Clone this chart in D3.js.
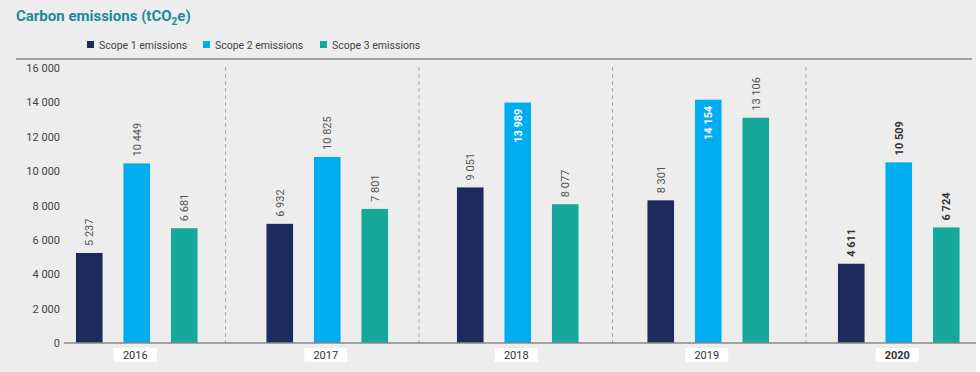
<!DOCTYPE html>
<html>
<head>
<meta charset="utf-8">
<script src="https://cdn.jsdelivr.net/npm/d3@7"></script>
<style>
  body { margin: 0; background: #fff; }
  svg text { font-family: Roboto, "Noto Sans", sans-serif; }
</style>
</head>
<body>
<div id="chart"></div>
<script>
// Data
const years = ["2016", "2017", "2018", "2019", "2020"];
const series = ["Scope 1 emissions", "Scope 2 emissions", "Scope 3 emissions"];
const scope1 = [5237, 6932, 9051, 8301, 4611];
const scope2 = [10449, 10825, 13989, 14154, 10509];
const scope3 = [6681, 7801, 8077, 13106, 6724];
const yTicks = [0, 2000, 4000, 6000, 8000, 10000, 12000, 14000, 16000];

// Colours
const COLORS = ["#1f2a5c", "#00adee", "#17a89c"];
const BG = "#ecedec";

const W = 980, H = 372;
const fmt = function(v) { return d3.format(",")(v).replace(/,/g, " "); };

const svg = d3.select("#chart").append("svg")
    .attr("width", W)
    .attr("height", H);

svg.append("rect")
    .attr("width", 976)
    .attr("height", H)
    .attr("fill", BG);

// Title with subscript
const title = svg.append("text")
    .attr("x", 16)
    .attr("y", 21)
    .attr("fill", "#1b8a94")
    .attr("font-size", 15)
    .attr("font-weight", "bold");
title.append("tspan").text("Carbon emissions (tCO");
title.append("tspan").attr("font-size", 10).attr("dy", 4).text("2");
title.append("tspan").attr("dy", -4).text("e)");

// Legend
const legendX = [87, 203, 320];
const legend = svg.selectAll(".legend")
    .data(series)
    .enter()
    .append("g")
    .attr("transform", function(d, i) { return "translate(" + legendX[i] + ", 41)"; });
legend.append("rect")
    .attr("width", 7)
    .attr("height", 7)
    .attr("fill", function(d, i) { return COLORS[i]; });
legend.append("text")
    .attr("x", 12)
    .attr("y", 7.5)
    .attr("font-size", 10.5)
    .attr("fill", "#444")
    .text(function(d) { return d; });

// Top rule
svg.append("line")
    .attr("x1", 16).attr("x2", 972)
    .attr("y1", 59).attr("y2", 59)
    .attr("stroke", "#888")
    .attr("stroke-width", 1.5);

// Scales
const y = d3.scaleLinear()
    .domain([0, 16000])
    .range([343, 68]);

const x0 = d3.scaleBand()
    .domain(years)
    .range([41.5, 994]);

const x1 = d3.scaleBand()
    .domain(series)
    .range([-71.25, 71.25])
    .paddingInner(0.44)
    .paddingOuter(0.22);

// Separators between years
const xSep = d3.scaleBand()
    .domain(years)
    .range([32, 999.5]);

svg.selectAll(".sep")
    .data(years.slice(1))
    .enter()
    .append("line")
    .attr("x1", function(d) { return xSep(d); })
    .attr("x2", function(d) { return xSep(d); })
    .attr("y1", 67)
    .attr("y2", 346)
    .attr("stroke", "#b0b0b0")
    .attr("stroke-width", 1)
    .attr("stroke-dasharray", "4,3");

// Y axis labels
svg.append("g")
    .attr("transform", "translate(60, 0)")
    .call(d3.axisLeft(y).tickValues(yTicks).tickSize(0).tickPadding(0).tickFormat(fmt))
    .call(function(g) { g.select(".domain").remove(); })
    .call(function(g) {
        g.selectAll("text")
            .attr("font-size", 11)
            .attr("fill", "#444");
    });

// Bars
const rows = [];
years.forEach(function(yr, i) {
    [scope1, scope2, scope3].forEach(function(arr, j) {
        rows.push({ year: yr, series: series[j], si: j, value: arr[i], bold: yr === "2020" });
    });
});

const cx = function(d) { return x0(d.year) + x0.bandwidth() / 2 + x1(d.series); };

svg.selectAll(".bar")
    .data(rows)
    .enter()
    .append("rect")
    .attr("x", cx)
    .attr("y", function(d) { return y(d.value); })
    .attr("width", x1.bandwidth())
    .attr("height", function(d) { return y(0) - y(d.value); })
    .attr("fill", function(d) { return COLORS[d.si]; });

// Value labels (rotated); two tallest go inside the bar
const inside = function(d) { return d.value > 13500 && d.si === 1; };
svg.selectAll(".val")
    .data(rows)
    .enter()
    .append("text")
    .attr("transform", function(d) {
        const px = cx(d) + x1.bandwidth() / 2;
        const py = inside(d) ? y(d.value) + 6 : y(d.value) - 7;
        return "translate(" + px + ", " + py + ") rotate(-90)";
    })
    .attr("dy", "0.36em")
    .attr("text-anchor", function(d) { return inside(d) ? "end" : "start"; })
    .attr("font-size", 11)
    .attr("font-weight", function(d) { return d.bold || inside(d) ? "bold" : "normal"; })
    .attr("fill", function(d) { return inside(d) ? "#fff" : (d.bold ? "#333" : "#555"); })
    .text(function(d) { return fmt(d.value); });

// Baseline
svg.append("line")
    .attr("x1", 64).attr("x2", 976)
    .attr("y1", y(0)).attr("y2", y(0))
    .attr("stroke", "#888")
    .attr("stroke-width", 1.5);

// Year labels in white boxes
const yearG = svg.selectAll(".yr")
    .data(years)
    .enter()
    .append("g")
    .attr("transform", function(d) {
        return "translate(" + (x0(d) + x0.bandwidth() / 2 - 1.5) + ", 355)";
    });
yearG.append("rect")
    .attr("x", -21.5)
    .attr("y", -7)
    .attr("width", 43)
    .attr("height", 14)
    .attr("fill", "#fff");
yearG.append("text")
    .attr("text-anchor", "middle")
    .attr("dy", "0.36em")
    .attr("font-size", 11)
    .attr("font-weight", function(d) { return d === "2020" ? "bold" : "normal"; })
    .attr("fill", "#333")
    .text(function(d) { return d; });
</script>
</body>
</html>
